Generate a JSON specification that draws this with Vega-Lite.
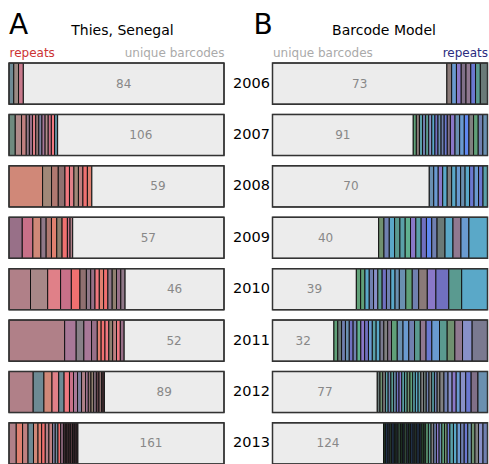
{
"$schema": "https://vega.github.io/schema/vega-lite/v6.json",
"background": "white",
"padding": {"left": 8, "right": 2, "top": 12, "bottom": 1},
"spacing": 48.5,
"bounds": "flush",
"config": {"font": "DejaVu Sans", "view": {"stroke": null}},
"data": {"values": [
{"p":"A","y":"2006","i":1,"v":2,"c":"l1"},{"p":"A","y":"2006","i":2,"v":2,"c":"l2"},{"p":"A","y":"2006","i":3,"v":2,"c":"l3"},{"p":"A","y":"2006","i":99,"v":84,"c":"u"},
{"p":"A","y":"2007","i":1,"v":4,"c":"l4"},{"p":"A","y":"2007","i":2,"v":4,"c":"l5"},{"p":"A","y":"2007","i":3,"v":3,"c":"l27"},{"p":"A","y":"2007","i":4,"v":2,"c":"l13"},{"p":"A","y":"2007","i":5,"v":2,"c":"l11"},{"p":"A","y":"2007","i":6,"v":2,"c":"l16"},{"p":"A","y":"2007","i":7,"v":2,"c":"l9"},{"p":"A","y":"2007","i":8,"v":2,"c":"l24"},{"p":"A","y":"2007","i":9,"v":2,"c":"l19"},{"p":"A","y":"2007","i":10,"v":2,"c":"l5"},{"p":"A","y":"2007","i":11,"v":2,"c":"l12"},{"p":"A","y":"2007","i":12,"v":2,"c":"l10"},{"p":"A","y":"2007","i":13,"v":2,"c":"l23"},{"p":"A","y":"2007","i":99,"v":106,"c":"u"},
{"p":"A","y":"2008","i":1,"v":15,"c":"l6"},{"p":"A","y":"2008","i":2,"v":4,"c":"l7"},{"p":"A","y":"2008","i":3,"v":3,"c":"l8"},{"p":"A","y":"2008","i":4,"v":3,"c":"l9"},{"p":"A","y":"2008","i":5,"v":2,"c":"l10"},{"p":"A","y":"2008","i":6,"v":2,"c":"l16"},{"p":"A","y":"2008","i":7,"v":2,"c":"l7"},{"p":"A","y":"2008","i":8,"v":2,"c":"l27"},{"p":"A","y":"2008","i":9,"v":2,"c":"l17"},{"p":"A","y":"2008","i":10,"v":2,"c":"l22"},{"p":"A","y":"2008","i":99,"v":59,"c":"u"},
{"p":"A","y":"2009","i":1,"v":5,"c":"l11"},{"p":"A","y":"2009","i":2,"v":4,"c":"l12"},{"p":"A","y":"2009","i":3,"v":3,"c":"l6"},{"p":"A","y":"2009","i":4,"v":2,"c":"l13"},{"p":"A","y":"2009","i":5,"v":2,"c":"l8"},{"p":"A","y":"2009","i":6,"v":2,"c":"l22"},{"p":"A","y":"2009","i":7,"v":2,"c":"l20"},{"p":"A","y":"2009","i":8,"v":2,"c":"l17"},{"p":"A","y":"2009","i":9,"v":1,"c":"l12"},{"p":"A","y":"2009","i":10,"v":1,"c":"l14"},{"p":"A","y":"2009","i":99,"v":57,"c":"u"},
{"p":"A","y":"2010","i":1,"v":10,"c":"l14"},{"p":"A","y":"2010","i":2,"v":8,"c":"l15"},{"p":"A","y":"2010","i":3,"v":6,"c":"l16"},{"p":"A","y":"2010","i":4,"v":5,"c":"l12"},{"p":"A","y":"2010","i":5,"v":4,"c":"l17"},{"p":"A","y":"2010","i":6,"v":3,"c":"l9"},{"p":"A","y":"2010","i":7,"v":2,"c":"l13"},{"p":"A","y":"2010","i":8,"v":2,"c":"l11"},{"p":"A","y":"2010","i":9,"v":2,"c":"l10"},{"p":"A","y":"2010","i":10,"v":2,"c":"l22"},{"p":"A","y":"2010","i":11,"v":2,"c":"l17"},{"p":"A","y":"2010","i":12,"v":2,"c":"l13"},{"p":"A","y":"2010","i":13,"v":2,"c":"l20"},{"p":"A","y":"2010","i":14,"v":2,"c":"l11"},{"p":"A","y":"2010","i":15,"v":2,"c":"l13"},{"p":"A","y":"2010","i":99,"v":46,"c":"u"},
{"p":"A","y":"2011","i":1,"v":29,"c":"l14"},{"p":"A","y":"2011","i":2,"v":6,"c":"l19"},{"p":"A","y":"2011","i":3,"v":4,"c":"l18"},{"p":"A","y":"2011","i":4,"v":4,"c":"l19"},{"p":"A","y":"2011","i":5,"v":3,"c":"l11"},{"p":"A","y":"2011","i":6,"v":2,"c":"l22"},{"p":"A","y":"2011","i":7,"v":2,"c":"l17"},{"p":"A","y":"2011","i":8,"v":2,"c":"l10"},{"p":"A","y":"2011","i":9,"v":2,"c":"l20"},{"p":"A","y":"2011","i":10,"v":2,"c":"l27"},{"p":"A","y":"2011","i":11,"v":2,"c":"l10"},{"p":"A","y":"2011","i":12,"v":2,"c":"l11"},{"p":"A","y":"2011","i":99,"v":52,"c":"u"},
{"p":"A","y":"2012","i":1,"v":18,"c":"l14"},{"p":"A","y":"2012","i":2,"v":8,"c":"l1"},{"p":"A","y":"2012","i":3,"v":6,"c":"l6"},{"p":"A","y":"2012","i":4,"v":5,"c":"l16"},{"p":"A","y":"2012","i":5,"v":4,"c":"l1"},{"p":"A","y":"2012","i":6,"v":4,"c":"l10"},{"p":"A","y":"2012","i":7,"v":3,"c":"l12"},{"p":"A","y":"2012","i":8,"v":3,"c":"l19"},{"p":"A","y":"2012","i":9,"v":3,"c":"l24"},{"p":"A","y":"2012","i":10,"v":3,"c":"l14"},{"p":"A","y":"2012","i":11,"v":2,"c":"l19"},{"p":"A","y":"2012","i":12,"v":2,"c":"l9"},{"p":"A","y":"2012","i":13,"v":2,"c":"l20"},{"p":"A","y":"2012","i":14,"v":2,"c":"l13"},{"p":"A","y":"2012","i":15,"v":2,"c":"l25"},{"p":"A","y":"2012","i":16,"v":2,"c":"l9"},{"p":"A","y":"2012","i":17,"v":2,"c":"l26"},{"p":"A","y":"2012","i":99,"v":89,"c":"u"},
{"p":"A","y":"2013","i":1,"v":8,"c":"l14"},{"p":"A","y":"2013","i":2,"v":7,"c":"l22"},{"p":"A","y":"2013","i":3,"v":6,"c":"l27"},{"p":"A","y":"2013","i":4,"v":6,"c":"l1"},{"p":"A","y":"2013","i":5,"v":5,"c":"l6"},{"p":"A","y":"2013","i":6,"v":4,"c":"l22"},{"p":"A","y":"2013","i":7,"v":4,"c":"l17"},{"p":"A","y":"2013","i":8,"v":4,"c":"l14"},{"p":"A","y":"2013","i":9,"v":4,"c":"l27"},{"p":"A","y":"2013","i":10,"v":3,"c":"l24"},{"p":"A","y":"2013","i":11,"v":3,"c":"l21"},{"p":"A","y":"2013","i":12,"v":3,"c":"l17"},{"p":"A","y":"2013","i":13,"v":3,"c":"l11"},{"p":"A","y":"2013","i":14,"v":2,"c":"l25"},{"p":"A","y":"2013","i":15,"v":2,"c":"l26"},{"p":"A","y":"2013","i":16,"v":2,"c":"l25"},{"p":"A","y":"2013","i":17,"v":2,"c":"l26"},{"p":"A","y":"2013","i":18,"v":2,"c":"l25"},{"p":"A","y":"2013","i":19,"v":2,"c":"l26"},{"p":"A","y":"2013","i":20,"v":2,"c":"l25"},{"p":"A","y":"2013","i":21,"v":2,"c":"l26"},{"p":"A","y":"2013","i":99,"v":161,"c":"u"},
{"p":"B","y":"2006","i":0,"v":73,"c":"u"},{"p":"B","y":"2006","i":1,"v":2,"c":"r1"},{"p":"B","y":"2006","i":2,"v":2,"c":"r2"},{"p":"B","y":"2006","i":3,"v":2,"c":"r3"},{"p":"B","y":"2006","i":4,"v":2,"c":"r4"},{"p":"B","y":"2006","i":5,"v":2,"c":"r15"},{"p":"B","y":"2006","i":6,"v":2,"c":"r5"},{"p":"B","y":"2006","i":7,"v":2,"c":"r6"},{"p":"B","y":"2006","i":8,"v":3,"c":"r7"},
{"p":"B","y":"2007","i":0,"v":91,"c":"u"},{"p":"B","y":"2007","i":1,"v":2,"c":"r8"},{"p":"B","y":"2007","i":2,"v":2,"c":"r1"},{"p":"B","y":"2007","i":3,"v":2,"c":"r17"},{"p":"B","y":"2007","i":4,"v":2,"c":"r10"},{"p":"B","y":"2007","i":5,"v":2,"c":"r6"},{"p":"B","y":"2007","i":6,"v":2,"c":"r23"},{"p":"B","y":"2007","i":7,"v":2,"c":"r9"},{"p":"B","y":"2007","i":8,"v":2,"c":"r11"},{"p":"B","y":"2007","i":9,"v":2,"c":"r24"},{"p":"B","y":"2007","i":10,"v":2,"c":"r10"},{"p":"B","y":"2007","i":11,"v":2,"c":"r5"},{"p":"B","y":"2007","i":12,"v":2,"c":"r4"},{"p":"B","y":"2007","i":13,"v":3,"c":"r3"},{"p":"B","y":"2007","i":14,"v":3,"c":"r24"},{"p":"B","y":"2007","i":15,"v":3,"c":"r2"},{"p":"B","y":"2007","i":16,"v":3,"c":"r16"},{"p":"B","y":"2007","i":17,"v":3,"c":"r12"},{"p":"B","y":"2007","i":18,"v":3,"c":"r8"},{"p":"B","y":"2007","i":19,"v":3,"c":"r10"},{"p":"B","y":"2007","i":20,"v":3,"c":"r24"},
{"p":"B","y":"2008","i":0,"v":70,"c":"u"},{"p":"B","y":"2008","i":1,"v":2,"c":"r24"},{"p":"B","y":"2008","i":2,"v":2,"c":"r2"},{"p":"B","y":"2008","i":3,"v":2,"c":"r3"},{"p":"B","y":"2008","i":4,"v":2,"c":"r9"},{"p":"B","y":"2008","i":5,"v":2,"c":"r12"},{"p":"B","y":"2008","i":6,"v":2,"c":"r9"},{"p":"B","y":"2008","i":7,"v":2,"c":"r2"},{"p":"B","y":"2008","i":8,"v":2,"c":"r24"},{"p":"B","y":"2008","i":9,"v":2,"c":"r9"},{"p":"B","y":"2008","i":10,"v":2,"c":"r5"},{"p":"B","y":"2008","i":11,"v":2,"c":"r2"},{"p":"B","y":"2008","i":12,"v":2,"c":"r5"},{"p":"B","y":"2008","i":13,"v":2,"c":"r17"},
{"p":"B","y":"2009","i":0,"v":40,"c":"u"},{"p":"B","y":"2009","i":1,"v":2,"c":"r13"},{"p":"B","y":"2009","i":2,"v":2,"c":"r10"},{"p":"B","y":"2009","i":3,"v":2,"c":"r9"},{"p":"B","y":"2009","i":4,"v":2,"c":"r6"},{"p":"B","y":"2009","i":5,"v":2,"c":"r17"},{"p":"B","y":"2009","i":6,"v":2,"c":"r14"},{"p":"B","y":"2009","i":7,"v":2,"c":"r3"},{"p":"B","y":"2009","i":8,"v":2,"c":"r17"},{"p":"B","y":"2009","i":9,"v":2,"c":"r11"},{"p":"B","y":"2009","i":10,"v":2,"c":"r16"},{"p":"B","y":"2009","i":11,"v":2,"c":"r10"},{"p":"B","y":"2009","i":12,"v":3,"c":"r7"},{"p":"B","y":"2009","i":13,"v":3,"c":"r9"},{"p":"B","y":"2009","i":14,"v":3,"c":"r15"},{"p":"B","y":"2009","i":15,"v":3,"c":"r2"},{"p":"B","y":"2009","i":16,"v":7,"c":"r9"},
{"p":"B","y":"2010","i":0,"v":39,"c":"u"},{"p":"B","y":"2010","i":1,"v":2,"c":"r8"},{"p":"B","y":"2010","i":2,"v":2,"c":"r8"},{"p":"B","y":"2010","i":3,"v":2,"c":"r9"},{"p":"B","y":"2010","i":4,"v":2,"c":"r10"},{"p":"B","y":"2010","i":5,"v":2,"c":"r23"},{"p":"B","y":"2010","i":6,"v":2,"c":"r6"},{"p":"B","y":"2010","i":7,"v":2,"c":"r11"},{"p":"B","y":"2010","i":8,"v":2,"c":"r10"},{"p":"B","y":"2010","i":9,"v":2,"c":"r9"},{"p":"B","y":"2010","i":10,"v":2,"c":"r24"},{"p":"B","y":"2010","i":11,"v":3,"c":"r24"},{"p":"B","y":"2010","i":12,"v":3,"c":"r8"},{"p":"B","y":"2010","i":13,"v":3,"c":"r10"},{"p":"B","y":"2010","i":14,"v":4,"c":"r1"},{"p":"B","y":"2010","i":15,"v":4,"c":"r3"},{"p":"B","y":"2010","i":16,"v":6,"c":"r11"},{"p":"B","y":"2010","i":17,"v":6,"c":"r6"},{"p":"B","y":"2010","i":18,"v":12,"c":"r9"},
{"p":"B","y":"2011","i":0,"v":32,"c":"u"},{"p":"B","y":"2011","i":1,"v":2,"c":"r8"},{"p":"B","y":"2011","i":2,"v":2,"c":"r7"},{"p":"B","y":"2011","i":3,"v":2,"c":"r10"},{"p":"B","y":"2011","i":4,"v":2,"c":"r24"},{"p":"B","y":"2011","i":5,"v":2,"c":"r11"},{"p":"B","y":"2011","i":6,"v":2,"c":"r10"},{"p":"B","y":"2011","i":7,"v":2,"c":"r14"},{"p":"B","y":"2011","i":8,"v":2,"c":"r3"},{"p":"B","y":"2011","i":9,"v":2,"c":"r11"},{"p":"B","y":"2011","i":10,"v":2,"c":"r2"},{"p":"B","y":"2011","i":11,"v":2,"c":"r17"},{"p":"B","y":"2011","i":12,"v":2,"c":"r9"},{"p":"B","y":"2011","i":13,"v":2,"c":"r18"},{"p":"B","y":"2011","i":14,"v":2,"c":"r12"},{"p":"B","y":"2011","i":15,"v":2,"c":"r4"},{"p":"B","y":"2011","i":16,"v":3,"c":"r8"},{"p":"B","y":"2011","i":17,"v":3,"c":"r24"},{"p":"B","y":"2011","i":18,"v":3,"c":"r2"},{"p":"B","y":"2011","i":19,"v":3,"c":"r10"},{"p":"B","y":"2011","i":20,"v":3,"c":"r6"},{"p":"B","y":"2011","i":21,"v":3,"c":"r15"},{"p":"B","y":"2011","i":22,"v":3,"c":"r5"},{"p":"B","y":"2011","i":23,"v":4,"c":"r2"},{"p":"B","y":"2011","i":24,"v":4,"c":"r6"},{"p":"B","y":"2011","i":25,"v":4,"c":"r13"},{"p":"B","y":"2011","i":26,"v":4,"c":"r15"},{"p":"B","y":"2011","i":27,"v":5,"c":"r23"},{"p":"B","y":"2011","i":28,"v":8,"c":"r18"},
{"p":"B","y":"2012","i":0,"v":77,"c":"u"},{"p":"B","y":"2012","i":1,"v":2,"c":"r7"},{"p":"B","y":"2012","i":2,"v":2,"c":"r13"},{"p":"B","y":"2012","i":3,"v":2,"c":"r12"},{"p":"B","y":"2012","i":4,"v":2,"c":"r17"},{"p":"B","y":"2012","i":5,"v":2,"c":"r10"},{"p":"B","y":"2012","i":6,"v":2,"c":"r6"},{"p":"B","y":"2012","i":7,"v":2,"c":"r24"},{"p":"B","y":"2012","i":8,"v":2,"c":"r11"},{"p":"B","y":"2012","i":9,"v":2,"c":"r3"},{"p":"B","y":"2012","i":10,"v":2,"c":"r17"},{"p":"B","y":"2012","i":11,"v":2,"c":"r6"},{"p":"B","y":"2012","i":12,"v":2,"c":"r13"},{"p":"B","y":"2012","i":13,"v":2,"c":"r8"},{"p":"B","y":"2012","i":14,"v":2,"c":"r17"},{"p":"B","y":"2012","i":15,"v":2,"c":"r9"},{"p":"B","y":"2012","i":16,"v":2,"c":"r17"},{"p":"B","y":"2012","i":17,"v":2,"c":"r12"},{"p":"B","y":"2012","i":18,"v":2,"c":"r7"},{"p":"B","y":"2012","i":19,"v":2,"c":"r10"},{"p":"B","y":"2012","i":20,"v":2,"c":"r12"},{"p":"B","y":"2012","i":21,"v":2,"c":"r17"},{"p":"B","y":"2012","i":22,"v":2,"c":"r10"},{"p":"B","y":"2012","i":23,"v":2,"c":"r12"},{"p":"B","y":"2012","i":24,"v":3,"c":"r12"},{"p":"B","y":"2012","i":25,"v":3,"c":"r10"},{"p":"B","y":"2012","i":26,"v":3,"c":"r23"},{"p":"B","y":"2012","i":27,"v":3,"c":"r3"},{"p":"B","y":"2012","i":28,"v":3,"c":"r2"},{"p":"B","y":"2012","i":29,"v":4,"c":"r23"},{"p":"B","y":"2012","i":30,"v":4,"c":"r5"},{"p":"B","y":"2012","i":31,"v":5,"c":"r4"},{"p":"B","y":"2012","i":32,"v":7,"c":"r24"},
{"p":"B","y":"2013","i":0,"v":124,"c":"u"},{"p":"B","y":"2013","i":1,"v":2,"c":"r19"},{"p":"B","y":"2013","i":2,"v":3,"c":"r20"},{"p":"B","y":"2013","i":3,"v":2,"c":"r21"},{"p":"B","y":"2013","i":4,"v":2,"c":"r22"},{"p":"B","y":"2013","i":5,"v":3,"c":"r20"},{"p":"B","y":"2013","i":6,"v":2,"c":"r19"},{"p":"B","y":"2013","i":7,"v":2,"c":"r21"},{"p":"B","y":"2013","i":8,"v":3,"c":"r22"},{"p":"B","y":"2013","i":9,"v":2,"c":"r19"},{"p":"B","y":"2013","i":10,"v":2,"c":"r20"},{"p":"B","y":"2013","i":11,"v":3,"c":"r22"},{"p":"B","y":"2013","i":12,"v":2,"c":"r21"},{"p":"B","y":"2013","i":13,"v":2,"c":"r19"},{"p":"B","y":"2013","i":14,"v":3,"c":"r20"},{"p":"B","y":"2013","i":15,"v":2,"c":"r21"},{"p":"B","y":"2013","i":16,"v":2,"c":"r22"},{"p":"B","y":"2013","i":17,"v":3,"c":"r20"},{"p":"B","y":"2013","i":18,"v":2,"c":"r21"},{"p":"B","y":"2013","i":19,"v":3,"c":"r19"},{"p":"B","y":"2013","i":20,"v":2,"c":"r22"},{"p":"B","y":"2013","i":21,"v":3,"c":"r8"},{"p":"B","y":"2013","i":22,"v":3,"c":"r6"},{"p":"B","y":"2013","i":23,"v":3,"c":"r12"},{"p":"B","y":"2013","i":24,"v":3,"c":"r10"},{"p":"B","y":"2013","i":25,"v":3,"c":"r3"},{"p":"B","y":"2013","i":26,"v":3,"c":"r24"},{"p":"B","y":"2013","i":27,"v":3,"c":"r8"},{"p":"B","y":"2013","i":28,"v":3,"c":"r13"},{"p":"B","y":"2013","i":29,"v":3,"c":"r5"},{"p":"B","y":"2013","i":30,"v":4,"c":"r17"},{"p":"B","y":"2013","i":31,"v":4,"c":"r9"},{"p":"B","y":"2013","i":32,"v":4,"c":"r2"},{"p":"B","y":"2013","i":33,"v":4,"c":"r10"},{"p":"B","y":"2013","i":34,"v":4,"c":"r5"},{"p":"B","y":"2013","i":35,"v":4,"c":"r24"},{"p":"B","y":"2013","i":36,"v":4,"c":"r13"},{"p":"B","y":"2013","i":37,"v":4,"c":"r12"},{"p":"B","y":"2013","i":38,"v":5,"c":"r23"},{"p":"B","y":"2013","i":39,"v":5,"c":"r10"}
]},
"hconcat": [
{
 "transform": [{"filter": "datum.p == 'A'"}],
 "width": 215, "height": 401,
 "title": {"text": "A", "anchor": "start", "frame": "group", "fontSize": 28, "fontWeight": "normal", "offset": -17},
 "encoding": {"y": {"field": "y", "type": "ordinal", "axis": null, "scale": {"paddingInner": 0.2, "paddingOuter": 0}}},
 "layer": [
  {"mark": {"type": "bar", "stroke": "#111111", "strokeWidth": 1},
   "encoding": {
    "x": {"field": "v", "type": "quantitative", "stack": "normalize",
      "axis": {"orient": "top", "values": [0, 1], "labelExpr": "datum.value == 0 ? 'repeats' : 'unique barcodes'", "labelFlush": true,
        "labelColor": {"condition": {"test": "datum.value == 0", "value": "#cc3333"}, "value": "#aaaaaa"},
        "domain": false, "ticks": false, "grid": false, "labelFontSize": 12, "labelPadding": 4,
        "title": "Thies, Senegal", "titleFontSize": 14, "titleFontWeight": "normal", "titlePadding": 9, "titleX": 113}},
    "color": {"field": "c", "type": "nominal", "legend": null,
      "scale": {"domain": ["u","l1","l2","l3","l4","l5","l6","l7","l8","l9","l10","l11","l12","l13","l14","l15","l16","l17","l18","l19","l20","l21","l22","l23","l24","l25","l26","l27"],
                "range": ["#ececec","#6e8a94","#9a8a84","#c87a8c","#6f8a7f","#b08a8a","#d08878","#a08878","#b07870","#907070","#f07880","#987088","#c87088","#907888","#b08088","#a88888","#e08088","#f07070","#888088","#a87898","#908070","#708898","#e08070","#5f8a9a","#8080a0","#604048","#402c30","#c08080"]}},
    "order": {"field": "i", "type": "quantitative"}}},
  {"transform": [{"filter": "datum.c == 'u'"}],
   "mark": {"type": "bar", "fillOpacity": 0, "fill": "white", "stroke": "#333333", "strokeWidth": 1.5},
   "encoding": {"x": {"datum": 0, "type": "quantitative"}, "x2": {"datum": 1}}},
  {"mark": {"type": "text", "fontSize": 12, "color": "#888888"},
   "encoding": {
    "x": {"field": "v", "type": "quantitative", "stack": "normalize", "bandPosition": 0.5},
    "order": {"field": "i", "type": "quantitative"},
    "text": {"condition": {"test": "datum.c == 'u'", "field": "v", "type": "quantitative"}, "value": ""}}}
 ]
},
{
 "transform": [{"filter": "datum.p == 'B'"}],
 "width": 215, "height": 401,
 "title": {"text": "B", "anchor": "start", "frame": "group", "fontSize": 28, "fontWeight": "normal", "offset": -17, "dx": -19},
 "encoding": {"y": {"field": "y", "type": "ordinal", "scale": {"paddingInner": 0.2, "paddingOuter": 0},
   "axis": {"title": null, "domain": false, "ticks": false, "labelFontSize": 14.5, "labelFontWeight": "normal", "labelColor": "black", "labelPadding": 3}}},
 "layer": [
  {"mark": {"type": "bar", "stroke": "#111111", "strokeWidth": 1},
   "encoding": {
    "x": {"field": "v", "type": "quantitative", "stack": "normalize",
      "axis": {"orient": "top", "values": [0, 1], "labelExpr": "datum.value == 0 ? 'unique barcodes' : 'repeats'", "labelFlush": true,
        "labelColor": {"condition": {"test": "datum.value == 0", "value": "#aaaaaa"}, "value": "#2b2b80"},
        "domain": false, "ticks": false, "grid": false, "labelFontSize": 12, "labelPadding": 4,
        "title": "Barcode Model", "titleFontSize": 14, "titleFontWeight": "normal", "titlePadding": 9, "titleX": 111}},
    "color": {"field": "c", "type": "nominal", "legend": null,
      "scale": {"domain": ["u","r1","r2","r3","r4","r5","r6","r7","r8","r9","r10","r11","r12","r13","r14","r15","r16","r17","r18","r19","r20","r21","r22","r23","r24"],
                "range": ["#ececec","#8a7a78","#6a9ad0","#8a78c8","#807088","#6a78d0","#5a9a90","#6a7a78","#60a078","#5aa8c8","#7080b0","#7070c0","#808080","#709070","#60b090","#907890","#6088f0","#5aa0a8","#7a7a90","#24402c","#203048","#2c3c50","#304838","#8890c8","#6a90b0"]}},
    "order": {"field": "i", "type": "quantitative"}}},
  {"transform": [{"filter": "datum.c == 'u'"}],
   "mark": {"type": "bar", "fillOpacity": 0, "fill": "white", "stroke": "#333333", "strokeWidth": 1.5},
   "encoding": {"x": {"datum": 0, "type": "quantitative"}, "x2": {"datum": 1}}},
  {"mark": {"type": "text", "fontSize": 12, "color": "#888888"},
   "encoding": {
    "x": {"field": "v", "type": "quantitative", "stack": "normalize", "bandPosition": 0.5},
    "order": {"field": "i", "type": "quantitative"},
    "text": {"condition": {"test": "datum.c == 'u'", "field": "v", "type": "quantitative"}, "value": ""}}}
 ]
}
],
"resolve": {"scale": {"color": "independent"}}
}
